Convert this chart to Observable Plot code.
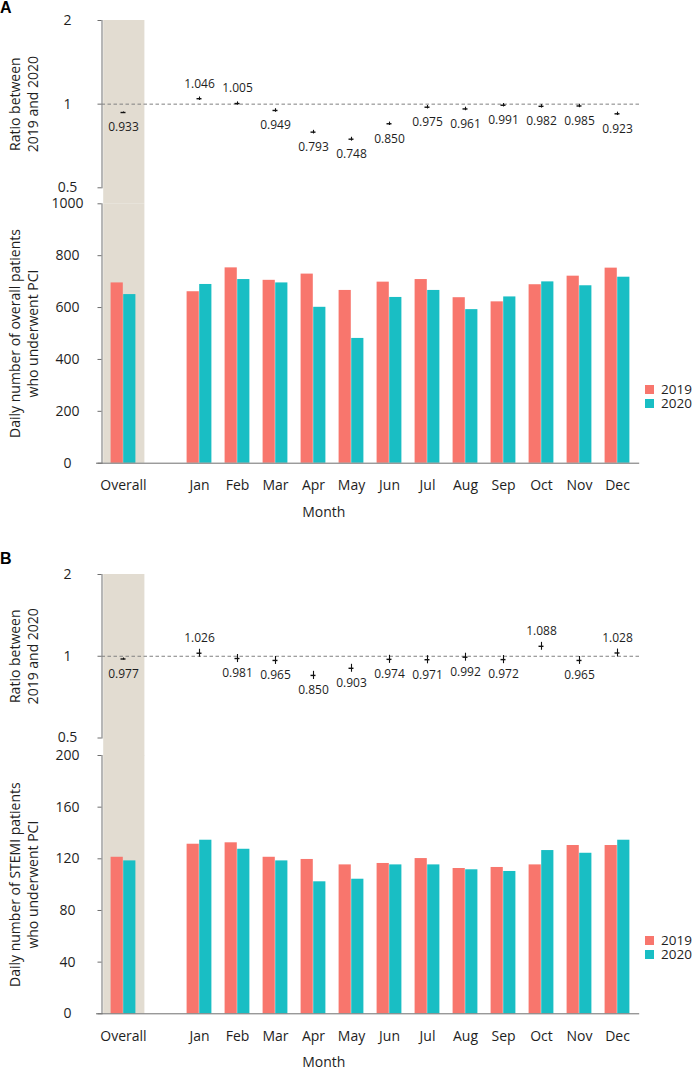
<!DOCTYPE html>
<html><head><meta charset="utf-8">
<script src="https://cdn.jsdelivr.net/npm/d3@7"></script>
<script src="https://cdn.jsdelivr.net/npm/@observablehq/plot@0.6"></script>
<style>
body{margin:0;background:#fff;font-family:"Open Sans",sans-serif;}
#root{position:relative;width:694px;height:1070px;overflow:hidden;background:#fff;}
.abs{position:absolute;left:0;}
.tag{position:absolute;left:0;font:bold 16px/16px "Liberation Sans",Arial,sans-serif;color:#000;}
.legend{position:absolute;font:13.5px/14px "Open Sans",sans-serif;color:#1e1e1e;white-space:nowrap;}
.legend .row{display:flex;align-items:center;height:14px;}
.legend .sw{display:inline-block;width:9px;height:9px;margin-right:7px;}
</style></head><body><div id="root"></div>
<script>
// ---------- data ----------
const months = ["Jan","Feb","Mar","Apr","May","Jun","Jul","Aug","Sep","Oct","Nov","Dec"];
const groups = ["Overall", ...months];
const spacer = " ";
const years = ["2019", "2020"];
const yearColors = ["#F8766D", "#19BEC4"];
const ratioTicks = [0.5, 1, 2];
const ratioRef = [1];
const xLabel = "Month";

// Panel A: overall PCI
const pciTicks = [0, 200, 400, 600, 800, 1000];
const pci2019 = [695, 661, 753, 705, 729, 666, 698, 708, 638, 622, 688, 721, 752];
const pci2020 = [650, 689, 708, 695, 601, 481, 639, 666, 592, 641, 699, 684, 717];
const pciRatio = [0.933, 1.046, 1.005, 0.949, 0.793, 0.748, 0.850, 0.975, 0.961, 0.991, 0.982, 0.985, 0.923];
const pciRatioLo = [0.929, 1.031, 0.991, 0.935, 0.781, 0.736, 0.838, 0.961, 0.947, 0.977, 0.968, 0.971, 0.910];
const pciRatioHi = [0.937, 1.061, 1.019, 0.963, 0.805, 0.760, 0.862, 0.989, 0.975, 1.005, 0.996, 0.999, 0.936];
const pciYLabel = "Daily number of overall patients\nwho underwent PCI";

// Panel B: STEMI PCI
const stemiTicks = [0, 40, 80, 120, 160, 200];
const stemi2019 = [121.2, 131.3, 132.4, 121.2, 119.5, 115.3, 116.4, 120.2, 112.5, 113.3, 115.3, 130.3, 130.3];
const stemi2020 = [118.4, 134.4, 127.4, 118.4, 102.2, 104.2, 115.3, 115.3, 111.5, 110.2, 126.4, 124.3, 134.4];
const stemiRatio = [0.977, 1.026, 0.981, 0.965, 0.850, 0.903, 0.974, 0.971, 0.992, 0.972, 1.088, 0.965, 1.028];
const stemiRatioLo = [0.969, 0.992, 0.948, 0.933, 0.821, 0.873, 0.941, 0.938, 0.959, 0.939, 1.052, 0.933, 0.994];
const stemiRatioHi = [0.985, 1.061, 1.015, 0.998, 0.880, 0.934, 1.008, 1.005, 1.026, 1.006, 1.125, 0.998, 1.063];
const stemiYLabel = "Daily number of STEMI patients\nwho underwent PCI";

const ratioYLabel = "Ratio between\n2019 and 2020";

// ---------- layout/style ----------
const W = 694, ML = 101.5, MR = 54.8;
const xDomain = [groups[0], spacer, ...months];
const BW = (W - ML - MR) / xDomain.length;
const shade = "#e2dcd1";
const axisGrey = "#6e6e6e";
const ink = "#1e1e1e";
const font = "Open Sans";
const fmt = d3.format(".3f");
const root = document.getElementById("root");

function place(el, top, left = 0) {
  const d = document.createElement("div");
  d.className = "abs"; d.style.top = top + "px"; d.style.left = left + "px";
  d.appendChild(el); root.appendChild(d); return d;
}

function makeLegend(top, left) {
  const lg = document.createElement("div");
  lg.className = "legend"; lg.style.top = top + "px"; lg.style.left = left + "px";
  years.forEach((y, i) => {
    const row = document.createElement("div"); row.className = "row";
    const sw = document.createElement("span"); sw.className = "sw"; sw.style.background = yearColors[i];
    const tx = document.createElement("span"); tx.textContent = y;
    row.appendChild(sw); row.appendChild(tx); lg.appendChild(row);
  });
  root.appendChild(lg);
}

function panel(cfg) {
  const rows = groups.map((g, i) => ({group: g, ratio: cfg.ratio[i], lo: cfg.lo[i], hi: cfg.hi[i]}));
  const b19 = groups.map((g, i) => ({group: g, year: years[0], value: cfg.v2019[i]}));
  const b20 = groups.map((g, i) => ({group: g, year: years[1], value: cfg.v2020[i]}));
  const gap = (cfg.barTop + cfg.barMT) - (cfg.ratioTop + cfg.ratioH - cfg.ratioMB);
  const style = {background: "transparent", fontFamily: font, overflow: "visible", color: ink};
  const yTitle = (label) => Plot.text([label], {text: d => d, frameAnchor: "left", rotate: -90,
    textAnchor: "middle", lineAnchor: "top", dx: -94.5, fontSize: 14, lineHeight: 1.29, fill: ink});

  const ratioPlot = Plot.plot({
    width: W, height: cfg.ratioH, marginLeft: ML, marginRight: MR,
    marginTop: cfg.ratioMT, marginBottom: cfg.ratioMB, style,
    x: {type: "band", domain: xDomain, padding: 0, axis: null},
    y: {type: "log", domain: d3.extent(ratioTicks)},
    marks: [
      Plot.cell([groups[0]], {x: d => d, fill: shade, insetLeft: -0.8, insetRight: -2.4, insetBottom: -gap}),
      Plot.frame({anchor: "left", stroke: axisGrey}),
      Plot.axisY({ticks: ratioTicks, tickFormat: d => String(d), tickSize: 4, tickPadding: 30.5,
        textAnchor: "middle", fontSize: 14, stroke: axisGrey, fill: ink, label: null}),
      Plot.ruleY(ratioRef, {stroke: "#808080", strokeDasharray: "3.5,2.5"}),
      Plot.ruleX(rows, {x: "group", y1: "lo", y2: "hi", stroke: "#111", strokeWidth: 1.1}),
      Plot.tickY(rows, {x: "group", y: "ratio", insetLeft: BW / 2 - 2.7, insetRight: BW / 2 - 2.7, stroke: "#111", strokeWidth: 1.4}),
      Plot.text(rows.filter(d => d.ratio > 1), {x: "group", y: "ratio", text: d => fmt(d.ratio), dy: -15, fontSize: 12, fill: ink}),
      Plot.text(rows.filter(d => d.ratio <= 1), {x: "group", y: "ratio", text: d => fmt(d.ratio), dy: 15, fontSize: 12, fill: ink}),
      yTitle(ratioYLabel)
    ]
  });

  const barPlot = Plot.plot({
    width: W, height: cfg.barH, marginLeft: ML, marginRight: MR,
    marginTop: cfg.barMT, marginBottom: cfg.barMB, style,
    x: {type: "band", domain: xDomain, padding: 0},
    y: {domain: [0, d3.max(cfg.yTicks)]},
    color: {domain: years, range: yearColors},
    marks: [
      Plot.cell([groups[0]], {x: d => d, fill: shade, insetLeft: -0.8, insetRight: -2.4}),
      Plot.barY(b19, {x: "group", y: "value", fill: "year", insetLeft: 6.6, insetRight: BW / 2}),
      Plot.barY(b20, {x: "group", y: "value", fill: "year", insetLeft: BW / 2, insetRight: 6.6}),
      Plot.frame({anchor: "left", stroke: axisGrey}),
      Plot.ruleY([0], {stroke: axisGrey, insetLeft: -5.5}),
      Plot.axisY({ticks: cfg.yTicks, tickFormat: d => String(d), tickSize: 4, tickPadding: 30.5,
        textAnchor: "middle", fontSize: 14, stroke: axisGrey, fill: ink, label: null}),
      Plot.axisX({tickSize: 0, tickPadding: 17, fontSize: 14, fill: ink, label: null}),
      yTitle(cfg.yLabel),
      Plot.text([xLabel], {text: d => d, frameAnchor: "bottom", lineAnchor: "top", dy: 43.5, dx: -47, fontSize: 14, fill: ink})
    ]
  });

  place(ratioPlot, cfg.ratioTop);
  place(barPlot, cfg.barTop);
  makeLegend(cfg.legendTop, 645);

  const tag = document.createElement("div");
  tag.className = "tag"; tag.textContent = cfg.tag; tag.style.top = cfg.tagTop + "px";
  root.appendChild(tag);
}

panel({tag: "A", tagTop: 0, ratio: pciRatio, lo: pciRatioLo, hi: pciRatioHi, v2019: pci2019, v2020: pci2020,
  yTicks: pciTicks, yLabel: pciYLabel,
  ratioTop: 0, ratioH: 203, ratioMT: 20, ratioMB: 15.7,
  barTop: 195, barH: 330, barMT: 8.3, barMB: 62.3, legendTop: 382});

panel({tag: "B", tagTop: 551, ratio: stemiRatio, lo: stemiRatioLo, hi: stemiRatioHi, v2019: stemi2019, v2020: stemi2020,
  yTicks: stemiTicks, yLabel: stemiYLabel,
  ratioTop: 553.5, ratioH: 201.5, ratioMT: 20, ratioMB: 18,
  barTop: 747, barH: 323, barMT: 8, barMB: 56.7, legendTop: 933});
</script></body></html>
